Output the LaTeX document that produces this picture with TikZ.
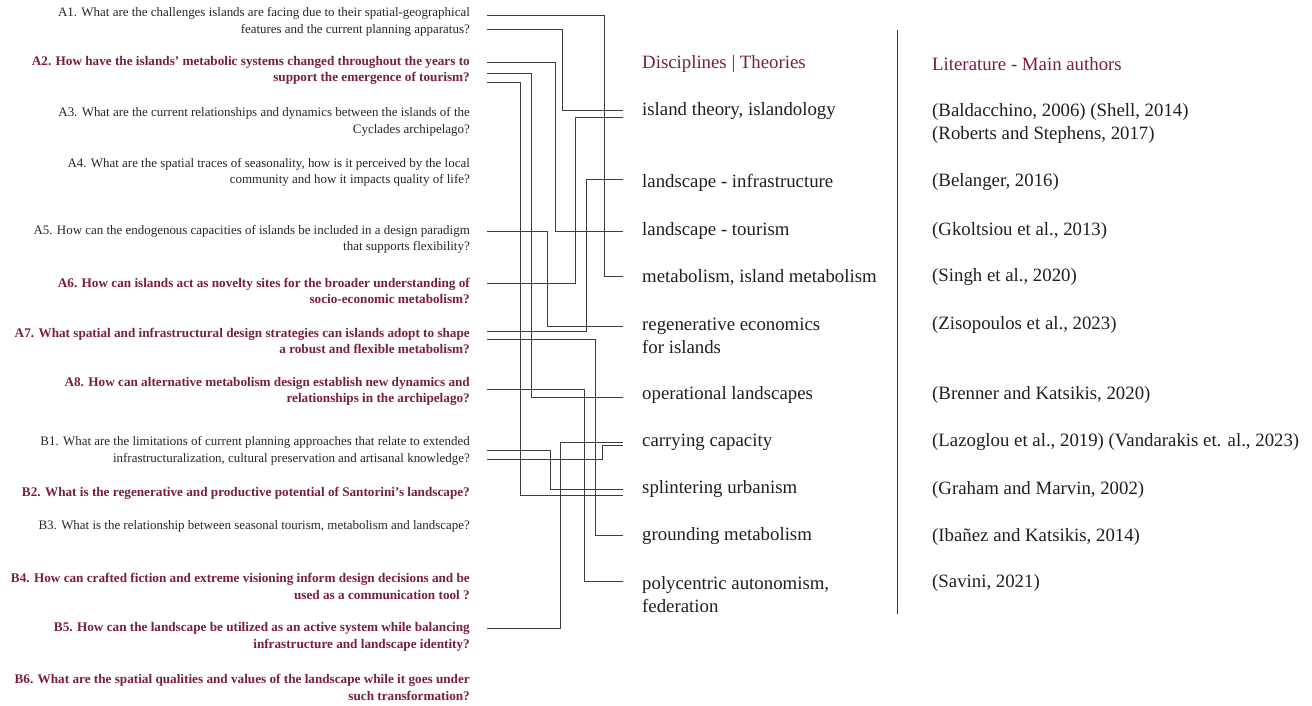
\documentclass[tikz,border=0pt]{standalone}
\usepackage{fontspec}
\setmainfont{Liberation Serif}
\definecolor{maroon}{RGB}{122,30,62}
\definecolor{linec}{RGB}{60,60,60}
\begin{document}
\begin{tikzpicture}[x=1pt,y=-1pt,
  q/.style={anchor=east,align=right,inner sep=0pt,font=\fontsize{12.95}{16.5}\selectfont,text=black!85},
  qb/.style={q,font=\fontsize{13.2}{16.5}\selectfont\bfseries,text=maroon},
  mid/.style={anchor=west,align=left,inner sep=0pt,font=\fontsize{18.8}{23.5}\selectfont,text=black!88},
  head/.style={mid,text=maroon},
  conn/.style={draw=linec,line width=0.75pt}]
\useasboundingbox (0,0) rectangle (1312,706);
% questions
\node[q]  (a1) at (470,22)    {A1. What are the challenges islands are facing due to their spatial-geographical\\features and the current planning apparatus?};
\node[qb] (a2) at (470,70.5)  {A2. How have the islands’ metabolic systems changed throughout the years to\\support the emergence of tourism?};
\node[q]  (a3) at (470,122)   {A3. What are the current relationships and dynamics between the islands of the\\Cyclades archipelago?};
\node[q]  (a4) at (470,172.5) {A4. What are the spatial traces of seasonality, how is it perceived by the local\\community and how it impacts quality of life?};
\node[q]  (a5) at (470,239.5) {A5. How can the endogenous capacities of islands be included in a design paradigm\\that supports flexibility?};
\node[qb] (a6) at (470,291)   {A6. How can islands act as novelty sites for the broader understanding of\\socio-economic metabolism?};
\node[qb] (a7) at (470,341)   {A7. What spatial and infrastructural design strategies can islands adopt to shape\\a robust and flexible metabolism?};
\node[qb] (a8) at (470,391.5) {A8. How can alternative metabolism design establish new dynamics and\\relationships in the archipelago?};
\node[q]  (b1) at (470,451)   {B1. What are the limitations of current planning approaches that relate to extended\\infrastructuralization, cultural preservation and artisanal knowledge?};
\node[qb] (b2) at (470,493)   {B2. What is the regenerative and productive potential of Santorini’s landscape?};
\node[q]  (b3) at (470,526)   {B3. What is the relationship between seasonal tourism, metabolism and landscape?};
\node[qb] (b4) at (470,586.5) {B4. How can crafted fiction and extreme visioning inform design decisions and be\\used as a communication tool ?};
\node[qb] (b5) at (470,637)   {B5. How can the landscape be utilized as an active system while balancing\\infrastructure and landscape identity?};
\node[qb] (b6) at (470,687.5) {B6. What are the spatial qualities and values of the landscape while it goes under\\such transformation?};
% disciplines
\node[head] (dh) at (642,64) {Disciplines | Theories};
\node[mid] (d1) at (642,111.5) {island theory, islandology};
\node[mid] (d2) at (642,182.5) {landscape - infrastructure};
\node[mid] (d3) at (642,230.5) {landscape - tourism};
\node[mid] (d4) at (642,277.5) {metabolism, island metabolism};
\node[mid] (d5) at (642,336) {regenerative economics\\for islands};
\node[mid] (d6) at (642,394.5) {operational landscapes};
\node[mid] (d7) at (642,442.5) {carrying capacity};
\node[mid] (d8) at (642,489.5) {splintering urbanism};
\node[mid] (d9) at (642,536.5) {grounding metabolism};
\node[mid] (d10) at (642,594.5) {polycentric autonomism,\\federation};
% literature
\node[head] (lh) at (932,64) {Literature - Main authors};
\node[mid] (l1) at (932,123.5) {(Baldacchino, 2006) (Shell, 2014)\\(Roberts and Stephens, 2017)};
\node[mid] (l2) at (932,182.5) {(Belanger, 2016)};
\node[mid] (l3) at (932,230.5) {(Gkoltsiou et al., 2013)};
\node[mid] (l4) at (932,277.5) {(Singh et al., 2020)};
\node[mid] (l5) at (932,324.5) {(Zisopoulos et al., 2023)};
\node[mid] (l6) at (932,394.5) {(Brenner and Katsikis, 2020)};
\node[mid] (l7) at (932,442.5) {(Lazoglou et al., 2019) (Vandarakis et. al., 2023)};
\node[mid] (l8) at (932,489.5) {(Graham and Marvin, 2002)};
\node[mid] (l9) at (932,536.5) {(Ibañez and Katsikis, 2014)};
\node[mid] (l10) at (932,582.5) {(Savini, 2021)};
% divider
\coordinate (vtop) at (897,30);
\coordinate (vbot) at (897,614);
\draw[draw=black!80,line width=1pt] (vtop) -- (vbot);
% connector ends
\coordinate (sA1a) at (487,15);
\coordinate (sA1b) at (487,29);
\coordinate (sA2a) at (487,62);
\coordinate (sA2b) at (487,73);
\coordinate (sA2c) at (487,82);
\coordinate (sA5) at (487,231);
\coordinate (sA6) at (487,283);
\coordinate (sA7a) at (487,331);
\coordinate (sA7b) at (487,339);
\coordinate (sA8) at (487,389);
\coordinate (sB1a) at (487,450);
\coordinate (sB1b) at (487,459);
\coordinate (sB5) at (487,628);
\coordinate (eD1a) at (623,110);
\coordinate (eD1b) at (623,117);
\coordinate (eD2) at (623,179);
\coordinate (eD3) at (623,231);
\coordinate (eD4) at (623,276);
\coordinate (eD5) at (623,326);
\coordinate (eD6) at (623,397);
\coordinate (eD7a) at (623,442);
\coordinate (eD7b) at (623,445);
\coordinate (eD8a) at (623,489);
\coordinate (eD8b) at (623,495);
\coordinate (eD9) at (623,535);
\coordinate (eD10) at (623,581);
% connectors
\draw[conn] (sA1a) -| ([xshift=-19pt]eD4) -- (eD4);
\draw[conn] (sA1b) -| ([xshift=-61pt]eD1a) -- (eD1a);
\draw[conn] (sA2a) -| ([xshift=-68pt]eD3) -- (eD3);
\draw[conn] (sA2b) -| ([xshift=-92pt]eD6) -- (eD6);
\draw[conn] (sA2c) -| ([xshift=-103pt]eD8b) -- (eD8b);
\draw[conn] (sA6) -| ([xshift=-48pt]eD1b) -- (eD1b);
\draw[conn] (sA7a) -| ([xshift=-37pt]eD2) -- (eD2);
\draw[conn] (sA5) -| ([xshift=-76pt]eD5) -- (eD5);
\draw[conn] (sA7b) -| ([xshift=-28pt]eD9) -- (eD9);
\draw[conn] (sA8) -| ([xshift=-39pt]eD10) -- (eD10);
\draw[conn] (sB5) -| ([xshift=-63pt]eD7a) -- (eD7a);
\draw[conn] (sB1b) -| ([xshift=-21pt]eD7b) -- (eD7b);
\draw[conn] (sB1a) -| ([xshift=-73pt]eD8a) -- (eD8a);
\end{tikzpicture}
\end{document}
